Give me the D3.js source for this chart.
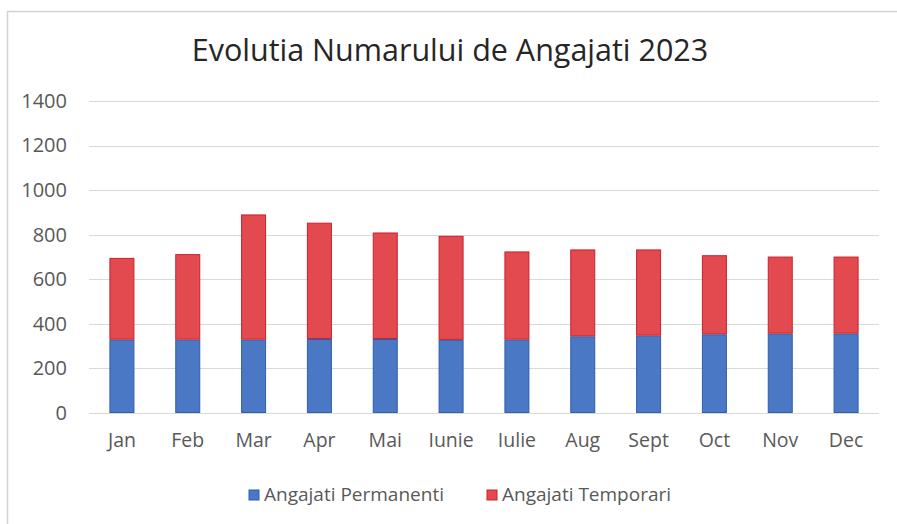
<!DOCTYPE html>
<html>
<head>
<meta charset="utf-8">
<script src="https://cdn.jsdelivr.net/npm/d3@7"></script>
<style>
  body { margin: 0; background: #fff; }
  text { font-family: "Open Sans", Lato, sans-serif; fill: #595959; }
</style>
</head>
<body>
<div id="chart"></div>
<script>
// Data
var months = ["Jan", "Feb", "Mar", "Apr", "Mai", "Iunie", "Iulie", "Aug", "Sept", "Oct", "Nov", "Dec"];
var permanenti = [329, 329, 329, 332, 332, 328, 329, 344, 347, 353, 356, 356];
var temporari  = [367, 384, 562, 522, 478, 467, 396, 390, 387, 355, 346, 346];
var yTicks = [0, 200, 400, 600, 800, 1000, 1200, 1400];
var seriesNames = ["Angajati Permanenti", "Angajati Temporari"];
var colors = ["#4a78c4", "#e24a50"];
var strokes = ["#2f5fae", "#c9222c"];

var W = 897, H = 524;
var margin = { left: 89, right: 18, top: 101, bottom: 111 };
var width = W - margin.left - margin.right;
var height = H - margin.top - margin.bottom;

var svg = d3.select("#chart").append("svg")
    .attr("width", W)
    .attr("height", H);

// chart frame (only left/top visible in the crop)
svg.append("path")
    .attr("d", "M7.5," + H + "V11.5H" + W)
    .attr("fill", "none")
    .attr("stroke", "#d4d4d4")
    .attr("stroke-width", 1.5);

svg.append("text")
    .attr("x", 450)
    .attr("y", 61)
    .attr("text-anchor", "middle")
    .attr("font-size", "30.5px")
    .style("fill", "#262626")
    .text("Evolutia Numarului de Angajati 2023");

var g = svg.append("g")
    .attr("transform", "translate(" + margin.left + "," + margin.top + ")");

var x = d3.scaleBand().domain(months).range([0, width]).paddingInner(0.62).paddingOuter(0.31);
var y = d3.scaleLinear().domain([0, 1400]).range([height, 0]);

// gridlines
g.append("g").selectAll("line")
    .data(yTicks)
    .enter().append("line")
    .attr("x1", 0).attr("x2", width)
    .attr("y1", function(d){ return Math.round(y(d)) + 0.5; })
    .attr("y2", function(d){ return Math.round(y(d)) + 0.5; })
    .attr("stroke", "#d9d9d9")
    .attr("stroke-width", 1);

// y axis labels
var yAxis = g.append("g")
    .attr("transform", "translate(-22,0)")
    .call(d3.axisLeft(y).tickValues(yTicks).tickFormat(d3.format("d")).tickSize(0).tickPadding(0));
yAxis.select(".domain").remove();
yAxis.selectAll("text").attr("font-size", "20px").attr("font-family", null);

// x axis labels
var xAxis = g.append("g")
    .attr("transform", "translate(0," + height + ")")
    .call(d3.axisBottom(x).tickSize(0).tickPadding(20));
xAxis.select(".domain").remove();
xAxis.selectAll("text").attr("font-size", "19.5px").attr("font-family", null);

// stacked bars
var table = months.map(function(m, i){
    return { month: m, p: permanenti[i], t: temporari[i] };
});
var stack = d3.stack().keys(["p", "t"])(table);

g.selectAll(".series")
    .data(stack)
    .enter().append("g")
    .attr("class", "series")
    .attr("fill", function(d, i){ return colors[i]; })
    .attr("stroke", function(d, i){ return strokes[i]; })
    .selectAll("rect")
    .data(function(d){ return d; })
    .enter().append("rect")
    .attr("x", function(d){ return x(d.data.month) + 0.5; })
    .attr("width", x.bandwidth() - 1)
    .attr("y", function(d){ return y(d[1]) + 0.5; })
    .attr("height", function(d){ return Math.max(0, y(d[0]) - y(d[1]) - 1); })
    .attr("stroke-width", 1);

// legend
var legendX = [249, 487];
var legend = svg.append("g").selectAll("g")
    .data(seriesNames)
    .enter().append("g")
    .attr("transform", function(d, i){ return "translate(" + legendX[i] + ",490)"; });
legend.append("rect")
    .attr("width", 10).attr("height", 10)
    .attr("fill", function(d, i){ return colors[i]; })
    .attr("stroke", function(d, i){ return strokes[i]; });
legend.append("text")
    .attr("x", 15)
    .attr("y", 11)
    .attr("font-size", "19px")
    .text(function(d){ return d; });
</script>
</body>
</html>
